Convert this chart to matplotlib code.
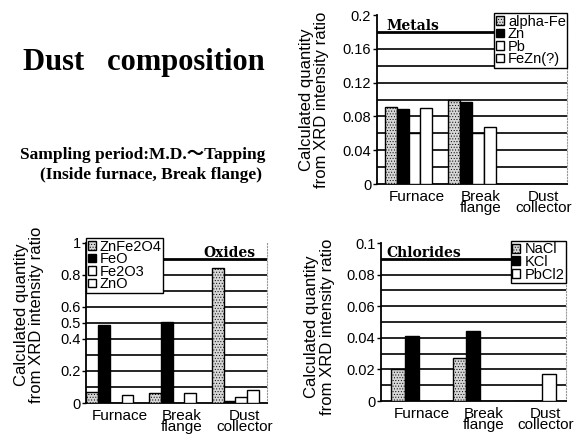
import numpy as np
import matplotlib
matplotlib.use("Agg")
import matplotlib.pyplot as plt

plt.rcParams['font.family'] = ['Liberation Sans', 'DejaVu Sans']
plt.rcParams['hatch.linewidth'] = 0.4

# ---------------- data ----------------
locations = ["Furnace", "Break\nflange", "Dust\ncollector"]

metal_names = ["alpha-Fe", "Zn", "Pb", "FeZn(?)"]
metal_alphaFe = [0.091, 0.0995, 0.0]
metal_Zn = [0.089, 0.0975, 0.0]
metal_Pb = [0.060, 0.060, 0.0]
metal_FeZn = [0.090, 0.068, 0.0]

oxide_names = ["ZnFe2O4", "FeO", "Fe2O3", "ZnO"]
oxide_ZnFe2O4 = [0.070, 0.062, 0.845]
oxide_FeO = [0.490, 0.505, 0.010]
oxide_Fe2O3 = [0.0, 0.0, 0.035]
oxide_ZnO = [0.052, 0.060, 0.083]

chloride_names = ["NaCl", "KCl", "PbCl2"]
chloride_NaCl = [0.0203, 0.0271, 0.0]
chloride_KCl = [0.0414, 0.0446, 0.0]
chloride_PbCl2 = [0.0, 0.0, 0.0171]

metal_yticks = [0, 0.04, 0.08, 0.12, 0.16, 0.2]
metal_yticklabels = ["0", "0.04", "0.08", "0.12", "0.16", "0.2"]
oxide_yticks = [0, 0.2, 0.4, 0.5, 0.6, 0.8, 1.0]
oxide_yticklabels = ["0", "0.2", "0.4", "0.5", "0.6", "0.8", "1"]
chloride_yticks = [0, 0.02, 0.04, 0.06, 0.08, 0.1]
chloride_yticklabels = ["0", "0.02", "0.04", "0.06", "0.08", "0.1"]

# styles: (facecolor, hatch)
STIPPLE = ("#d6d6d6", "......")
BLACK = ("black", None)
WHITE = ("white", None)

YLABEL = "Calculated quantity\nfrom XRD intensity ratio"


def panel(rect, series, names, styles, ylim, yticks, yticklabels, grid_step,
          xlim, group_w, tick_shift, title, title_xy, title_ha, leg_loc,
          leg_anchor, ylabel_x, ylabel_y, underline):
    ax = fig.add_axes(rect)
    x = np.arange(len(locations))
    n = len(series)
    w = group_w / n
    for i, (vals, name, st) in enumerate(zip(series, names, styles)):
        pos = x - group_w / 2 + w * (i + 0.5)
        ax.bar(pos, vals, width=w, color=st[0], hatch=st[1], edgecolor="black",
               linewidth=1.0, label=name, zorder=3)
    ax.set_xlim(*xlim)
    ax.set_ylim(*ylim)
    # gridlines
    g = grid_step
    vals = np.arange(g, ylim[1] - g * 0.5, g)
    for v in vals:
        lw = 2.0 if abs(v - underline) < 1e-9 else 1.2
        ax.axhline(v, color="black", lw=lw, zorder=1)
    ax.set_yticks(yticks)
    ax.set_yticklabels(yticklabels, fontsize=10.5)
    ax.set_xticks(x + tick_shift)
    ax.set_xticklabels(locations, fontsize=11, linespacing=0.75)
    ax.tick_params(axis="x", length=0, pad=4)
    ax.tick_params(axis="y", length=3, width=1, pad=1, direction="out")
    ax.spines["top"].set_visible(False)
    ax.spines["right"].set_linestyle(":")
    ax.spines["right"].set_color("#999999")
    ax.spines["right"].set_linewidth(0.8)
    for s in ["left", "bottom"]:
        ax.spines[s].set_linewidth(1.3)
        ax.spines[s].set_color("black")
    ax.set_ylabel(YLABEL, fontsize=12, linespacing=1.05)
    ax.yaxis.set_label_coords(ylabel_x, ylabel_y)
    ax.text(title_xy[0], title_xy[1], title, transform=ax.transAxes,
            fontsize=10, fontweight="bold", family="DejaVu Serif",
            ha=title_ha, va="baseline", zorder=5)
    leg = ax.legend(loc=leg_loc, bbox_to_anchor=leg_anchor, fontsize=10.5,
                    handlelength=0.55, handleheight=0.55, handletextpad=0.3,
                    labelspacing=-0.1, borderpad=0.1, borderaxespad=0,
                    fancybox=False, framealpha=1, edgecolor="black")
    leg.get_frame().set_linewidth(1.0)
    leg.set_zorder(6)
    return ax


fig = plt.figure(figsize=(5.86, 4.34), dpi=100)

panel([0.643, 0.576, 0.325, 0.389],
      [metal_alphaFe, metal_Zn, metal_Pb, metal_FeZn], metal_names,
      [STIPPLE, BLACK, WHITE, WHITE], (0, 0.2), metal_yticks, metal_yticklabels,
      0.02, (-0.5, 2.5), 0.75, 0.13, "Metals", (0.05, 0.91), "left",
      "upper right", (1.0, 1.012), -0.25, 0.5, 0.18)

panel([0.147, 0.0714, 0.309, 0.369],
      [oxide_ZnFe2O4, oxide_FeO, oxide_Fe2O3, oxide_ZnO], oxide_names,
      [STIPPLE, BLACK, WHITE, WHITE], (0, 1.0), oxide_yticks, oxide_yticklabels,
      0.1, (-0.38, 2.51), 0.75, 0.15, "Oxides", (0.935, 0.91), "right",
      "upper left", (0.0, 1.03), -0.23, 0.55, 0.9)

panel([0.650, 0.076, 0.316, 0.364],
      [chloride_NaCl, chloride_KCl, chloride_PbCl2], chloride_names,
      [STIPPLE, BLACK, WHITE], (0, 0.1), chloride_yticks, chloride_yticklabels,
      0.01, (-0.5, 2.5), 0.68, 0.17, "Chlorides", (0.03, 0.91), "left",
      "upper right", (1.0, 1.013), -0.25, 0.47, 0.09)

fig.text(0.245, 0.855, "Dust   composition", fontsize=22, fontweight="bold",
         family=["Liberation Serif", "DejaVu Serif"], ha="center", va="center")
fig.text(0.034, 0.643, "Sampling period:M.D.\uff5eTapping", fontsize=12.5,
         fontweight="bold", family=["Liberation Serif", "Noto Sans CJK JP"],
         ha="left", va="center")
fig.text(0.068, 0.597, "(Inside furnace, Break flange)", fontsize=12.5,
         fontweight="bold", family=["Liberation Serif", "DejaVu Serif"],
         ha="left", va="center")

fig.savefig("out.png", dpi=100)
